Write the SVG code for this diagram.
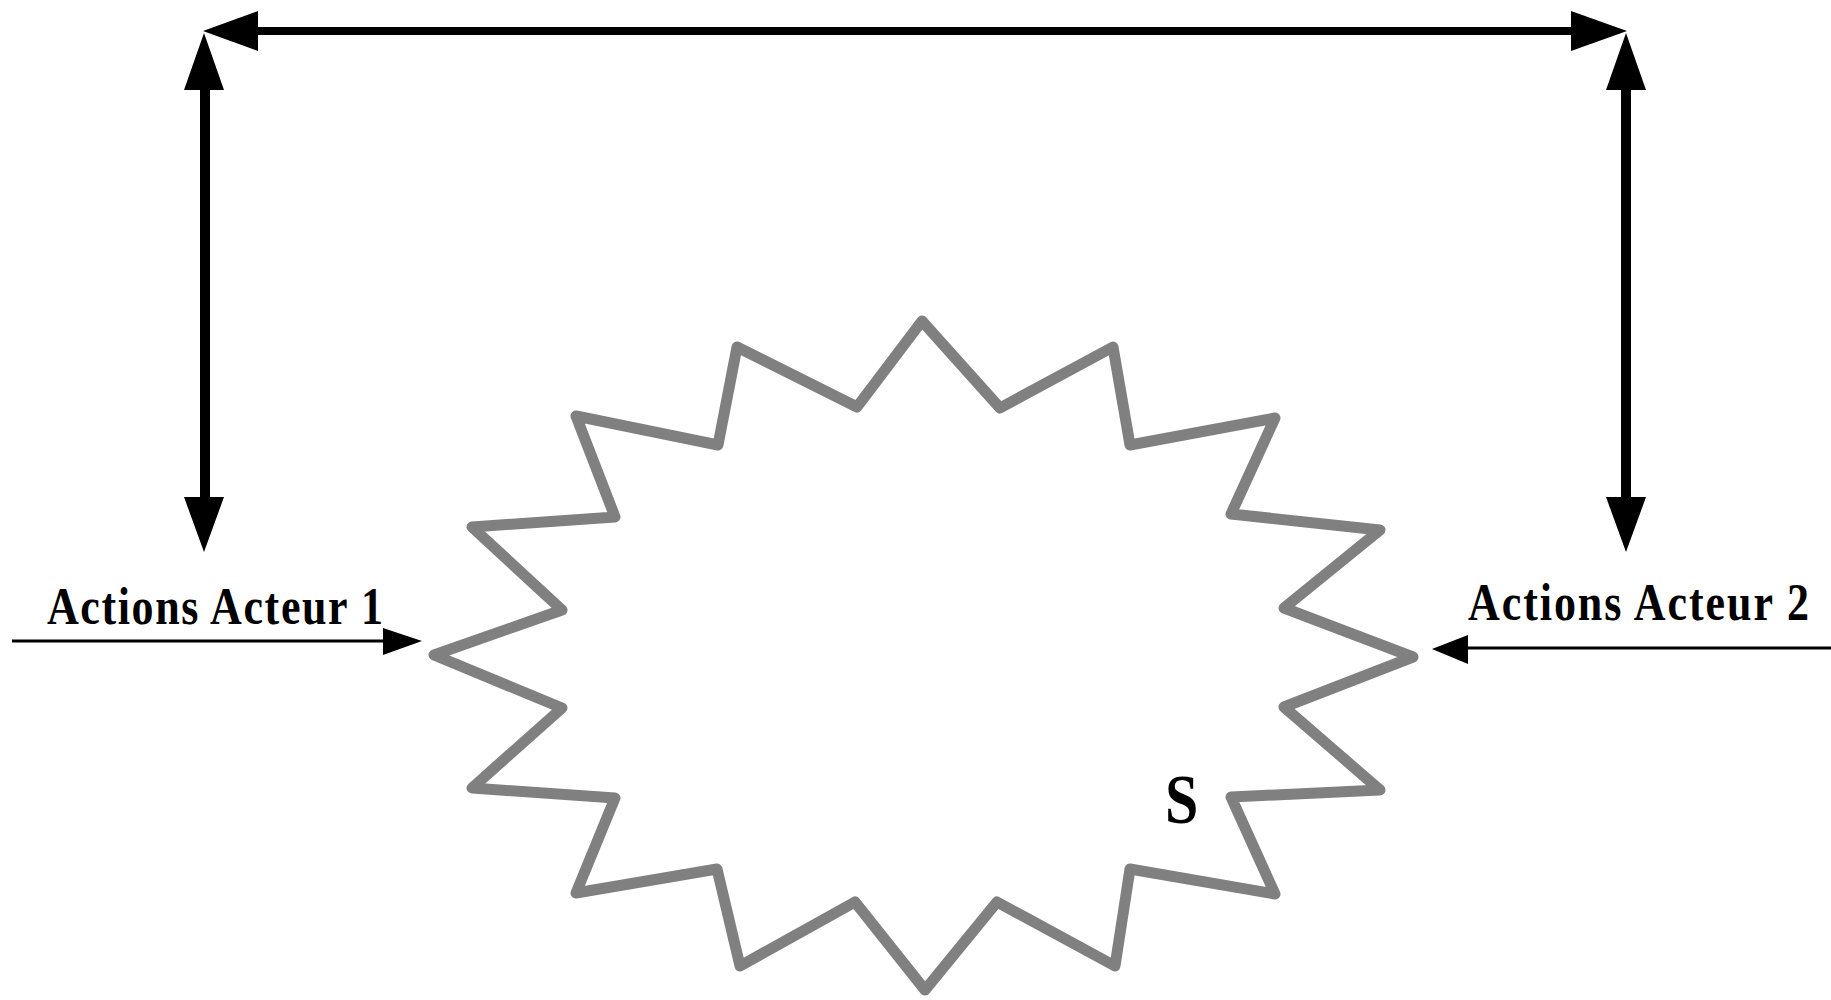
<svg xmlns="http://www.w3.org/2000/svg" width="1831" height="1000" viewBox="0 0 1831 1000">
<style>
.lbl{font-family:"Liberation Serif","Times New Roman",serif;font-weight:bold;fill:#000}
.thick{stroke:#000;fill:none}
.head{fill:#000;stroke:none}
.star{fill:none;stroke:#808080;stroke-width:11;stroke-linejoin:round;stroke-linecap:round}
</style>
<rect width="1831" height="1000" fill="#fff"/>
<g id="connectors">
<line class="thick" x1="255" y1="31" x2="1574" y2="31" stroke-width="8"/>
<polygon class="head" points="203,31 258,11 258,51"/>
<polygon class="head" points="1627,31 1571,11 1571,51"/>
<line class="thick" x1="205" y1="87" x2="205" y2="500" stroke-width="10"/>
<polygon class="head" points="204,33 184,90 224,90"/>
<polygon class="head" points="204,552 184,497 224,497"/>
<line class="thick" x1="1626" y1="87" x2="1626" y2="500" stroke-width="10"/>
<polygon class="head" points="1626,33 1606,90 1646,90"/>
<polygon class="head" points="1626,552 1606,497 1646,497"/>
<line class="thick" x1="12" y1="641" x2="386" y2="641" stroke-width="3"/>
<polygon class="head" points="422,641 383,628 383,655"/>
<line class="thick" x1="1465" y1="648" x2="1831" y2="648" stroke-width="3"/>
<polygon class="head" points="1432,649 1468,635 1468,664"/>
</g>
<g id="node-s">
<polygon class="star" points="922,321 1000,408 1113,347 1130,445 1275,418 1231,514 1380,530 1284,608 1413,657 1284,707 1380,790 1231,797 1275,894 1130,869 1115,966 997,902 925,990 855,902 740,966 717,869 576,893 615,798 472,788 562,708 434,655 562,610 472,527 615,517 576,416 718,445 737,347 857,407"/>
<text class="lbl" transform="translate(1165,823) scale(1,1.15)" x="0" y="0" font-size="60">S</text>
</g>
<g id="label-acteur1">
<text class="lbl" transform="translate(47,624) scale(1,1.18)" x="0" y="0" font-size="44" textLength="336" lengthAdjust="spacing">Actions Acteur 1</text>
</g>
<g id="label-acteur2">
<text class="lbl" transform="translate(1468,620) scale(1,1.18)" x="0" y="0" font-size="44" textLength="341" lengthAdjust="spacing">Actions Acteur 2</text>
</g>
</svg>
